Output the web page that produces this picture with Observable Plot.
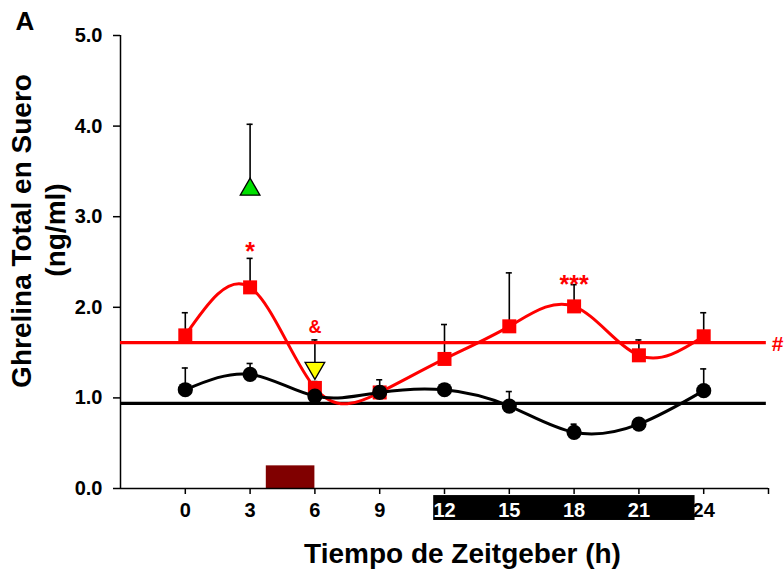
<!DOCTYPE html>
<html>
<head>
<meta charset="utf-8">
<script src="https://cdn.jsdelivr.net/npm/d3@7"></script>
<script src="https://cdn.jsdelivr.net/npm/@observablehq/plot@0.6"></script>
<style>
  html, body { margin: 0; padding: 0; background: #fff; }
</style>
</head>
<body>
<div id="chart"></div>
<script>
// ---- data ----
const hours = [0, 3, 6, 9, 12, 15, 18, 21, 24];
const controlMean = [1.09, 1.26, 1.02, 1.06, 1.09, 0.91, 0.62, 0.71, 1.08];
const controlSem  = [0.24, 0.12, 0.15, 0.14, 0.05, 0.16, 0.09, 0.03, 0.24];
const treatedMean = [1.69, 2.22, 1.11, 1.06, 1.43, 1.79, 2.01, 1.47, 1.68];
const treatedSem  = [0.25, 0.32, 0.07, 0.05, 0.38, 0.59, 0.24, 0.17, 0.26];
const controlMesor = 0.94;
const treatedMesor = 1.61;
const extraHours = [3, 6];
const extraMean = [3.30, 1.33];
const extraSem = [0.72, 0.31];
const annoText = ["*", "&", "***", "#"];
const annoX = [3, 6, 18, 27.15];
const annoY = [2.52, 1.72, 2.16, 1.52];
const mealStart = 3.75, mealEnd = 6.0, mealLevel = 0.25;
const darkStart = 11.5, darkEnd = 23.6;
const yTicks = [0, 1, 2, 3, 4, 5];
const xTicksDark = [12, 15, 18, 21];
const xTicksLight = [0, 3, 6, 9, 24];

// ---- tables ----
const control = hours.map((h, i) => ({x: h, y: controlMean[i], top: controlMean[i] + controlSem[i]}));
const treated = hours.map((h, i) => ({x: h, y: treatedMean[i], top: treatedMean[i] + treatedSem[i]}));
const extra = extraHours.map((h, i) => ({x: h, y: extraMean[i], top: extraMean[i] + extraSem[i], k: i}));
const annos = annoText.map((t, i) => ({t, x: annoX[i], y: annoY[i]}));
const allErr = [...treated, ...control, ...extra];
const cap = 0.14;
const RED = "#ff0000";
const FONT = "'Liberation Sans', Arial, Helvetica, sans-serif";

const chart = Plot.plot({
  width: 784,
  height: 573,
  marginLeft: 120,
  marginRight: 16,
  marginTop: 35,
  marginBottom: 85,
  style: {fontFamily: FONT, fontWeight: "bold", background: "#fff", overflow: "visible"},
  x: {domain: [-3, 27]},
  y: {domain: [0, 5]},
  marks: [
    // meal bar and dark phase bar
    Plot.rect([{x1: mealStart, x2: mealEnd, y2: mealLevel}], {x1: "x1", x2: "x2", y1: 0, y2: "y2", fill: "#800000"}),
    Plot.rect([{x1: darkStart, x2: darkEnd}], {x1: "x1", x2: "x2", y1: -0.078, y2: -0.353, fill: "#000"}),
    // axes
    Plot.axisY({ticks: yTicks, tickFormat: d3.format(".1f"), tickSize: 7, tickPadding: 11, fontSize: 20, fontWeight: "bold", fill: "#000", stroke: "#000", strokeWidth: 1.5, label: null}),
    Plot.axisX({ticks: [...xTicksLight, 27], tickFormat: d => d === 27 ? "" : String(d), tickSize: 6, tickPadding: 8, fontSize: 20, fontWeight: "bold", fill: "#000", stroke: "#000", strokeWidth: 1.5, label: null}),
    Plot.axisX({ticks: xTicksDark, tickSize: 6, tickPadding: 8, fontSize: 20, fontWeight: "bold", fill: "#fff", stroke: "#000", strokeWidth: 1.5, label: null}),
    Plot.ruleX([-3], {y1: 0, y2: 5, stroke: "#000", strokeWidth: 1.5}),
    Plot.ruleY([0], {x1: -3, x2: 27, stroke: "#000", strokeWidth: 1.5}),
    // error bars
    Plot.ruleX(allErr, {x: "x", y1: "y", y2: "top", stroke: "#000", strokeWidth: 1.6}),
    Plot.ruleY(allErr, {y: "top", x1: d => d.x - cap, x2: d => d.x + cap, stroke: "#000", strokeWidth: 1.6}),
    // mesor lines
    Plot.ruleY([treatedMesor], {x1: -3, x2: 26.9, stroke: RED, strokeWidth: 3.2}),
    Plot.ruleY([controlMesor], {x1: -3, x2: 26.9, stroke: "#000", strokeWidth: 3.2}),
    // curves
    Plot.line(treated, {x: "x", y: "y", curve: "natural", stroke: RED, strokeWidth: 3}),
    Plot.dot(treated, {x: "x", y: "y", symbol: "square", r: 7.9, fill: RED, stroke: "none"}),
    Plot.line(control, {x: "x", y: "y", curve: "natural", stroke: "#000", strokeWidth: 3}),
    Plot.dot(control, {x: "x", y: "y", symbol: "circle", r: 7.6, fill: "#000", stroke: "none"}),
    // single-time-point treatments
    Plot.dot(extra, {x: "x", y: "y", symbol: "triangle", r: 7.3, fill: d => d.k === 0 ? "#00e000" : "#ffff00", stroke: "#000", strokeWidth: 1.3, rotate: d => d.k === 0 ? 0 : 180}),
    // significance annotations
    Plot.text(annos.filter(d => d.t === "*" || d.t === "***"), {x: "x", y: "y", text: "t", fill: RED, fontWeight: "bold", fontSize: 25, textAnchor: "middle", lineAnchor: "bottom"}),
    Plot.text(annos.filter(d => d.t === "&"), {x: "x", y: "y", text: "t", fill: RED, fontWeight: "bold", fontSize: 18, textAnchor: "middle", lineAnchor: "bottom"}),
    Plot.text(annos.filter(d => d.t === "#"), {x: "x", y: "y", text: "t", fill: RED, fontWeight: "bold", fontSize: 21, textAnchor: "start", lineAnchor: "bottom"}),
    // titles
    Plot.text(["A"], {frameAnchor: "top-left", dx: -105, dy: -6, text: d => d, fontSize: 26, fontWeight: "bold", fill: "#000", textAnchor: "start", lineAnchor: "bottom"}),
    Plot.text(["Ghrelina Total en Suero"], {frameAnchor: "left", dx: -90, dy: -31, rotate: -90, text: d => d, fontSize: 28, fontWeight: "bold", fill: "#000", textAnchor: "middle", lineAnchor: "bottom"}),
    Plot.text(["(ng/ml)"], {frameAnchor: "left", dx: -56, dy: -32, rotate: -90, text: d => d, fontSize: 28, fontWeight: "bold", fill: "#000", textAnchor: "middle", lineAnchor: "bottom"}),
    Plot.text(["Tiempo de Zeitgeber (h)"], {frameAnchor: "bottom", dx: 18, dy: 74, text: d => d, fontSize: 28, fontWeight: "bold", fill: "#000", textAnchor: "middle", lineAnchor: "bottom"})
  ]
});
document.getElementById("chart").appendChild(chart);
</script>
</body>
</html>
